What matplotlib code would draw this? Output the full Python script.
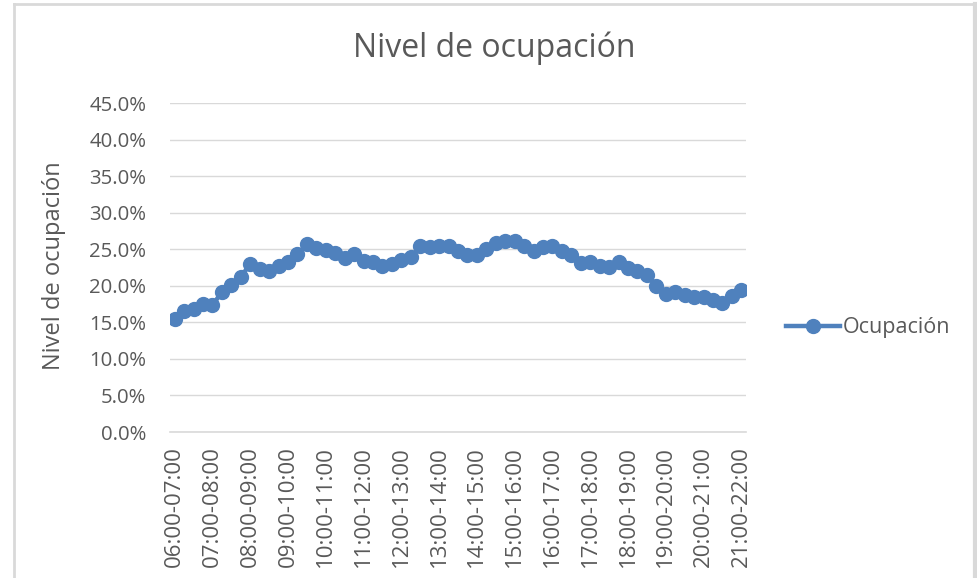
import matplotlib
matplotlib.use("Agg")
import matplotlib.pyplot as plt
from matplotlib.lines import Line2D
from matplotlib.ticker import FuncFormatter, MultipleLocator

plt.rcParams['font.family'] = ['Open Sans', 'DejaVu Sans']

hours = [f"{h:02d}:00-{h+1:02d}:00" for h in range(6, 22)]
tick_positions = list(range(0, 61, 4))

ocupacion = [15.5, 16.5, 16.8, 17.5, 17.4, 19.1, 20.1, 21.2, 23.0, 22.3,
             22.0, 22.7, 23.3, 24.3, 25.7, 25.2, 24.9, 24.5, 23.8, 24.3,
             23.4, 23.3, 22.7, 23.0, 23.5, 23.9, 25.4, 25.3, 25.4, 25.4,
             24.8, 24.2, 24.2, 25.0, 25.9, 26.1, 26.1, 25.4, 24.8, 25.3,
             25.4, 24.8, 24.2, 23.1, 23.3, 22.7, 22.6, 23.3, 22.4, 22.0,
             21.5, 20.0, 18.9, 19.2, 18.7, 18.5, 18.5, 18.1, 17.6, 18.6,
             19.4]

blue = '#4F81BD'
gray_text = '#595959'

fig = plt.figure(figsize=(9.78, 5.78), dpi=100)
ax = fig.add_axes([170/978, 1-432/578, (746-170)/978, (432-103)/578])

x = list(range(len(ocupacion)))
ax.plot(x, ocupacion, color=blue, lw=3.2, marker='o', markersize=10,
        markerfacecolor=blue, markeredgecolor=blue, zorder=3)

ax.set_xlim(-0.5, 60.5)
ax.set_ylim(0, 45)
ax.yaxis.set_major_locator(MultipleLocator(5))
ax.yaxis.set_major_formatter(FuncFormatter(lambda v, p: f"{v:.1f}%"))
ax.grid(axis='y', color='#D9D9D9', lw=1.0)
ax.set_axisbelow(True)
for s in ['top', 'right', 'left']:
    ax.spines[s].set_visible(False)
ax.spines['bottom'].set_color('#D9D9D9')
ax.spines['bottom'].set_linewidth(1.2)

ax.set_xticks(tick_positions)
ax.set_xticklabels(hours, rotation=90, fontsize=16, color=gray_text)
ax.tick_params(axis='x', length=0, pad=10)
ax.tick_params(axis='y', length=0, pad=17, labelsize=14.7, labelcolor=gray_text)

ax.set_ylabel('Nivel de ocupación', fontsize=17, color=gray_text)
ax.yaxis.set_label_coords(-0.181, 0.505)
fig.text(494/978, 1-48/578, 'Nivel de ocupación', fontsize=23, color=gray_text,
         ha='center', va='center')

handle = Line2D([], [], color=blue, lw=3.2, marker='o', markersize=10,
                markerfacecolor=blue, markeredgecolor=blue)
leg = fig.legend([handle], ['Ocupación'], loc='center left',
                 bbox_to_anchor=(786/978, 1-328/578), frameon=False,
                 fontsize=15.5, handlelength=2.5, handletextpad=0.15,
                 borderaxespad=0, borderpad=0)
for t in leg.get_texts():
    t.set_color(gray_text)

# chart border
border = '#D9D9D9'
fig.add_artist(Line2D([14/978, 14/978], [0, 1-4/578], color=border, lw=2,
                      transform=fig.transFigure))
fig.add_artist(Line2D([14/978, 975/978], [1-4/578, 1-4/578], color=border, lw=2,
                      transform=fig.transFigure))
fig.add_artist(Line2D([975/978, 975/978], [0, 1-4/578], color=border, lw=3,
                      transform=fig.transFigure))

fig.savefig('out.png', dpi=100)
